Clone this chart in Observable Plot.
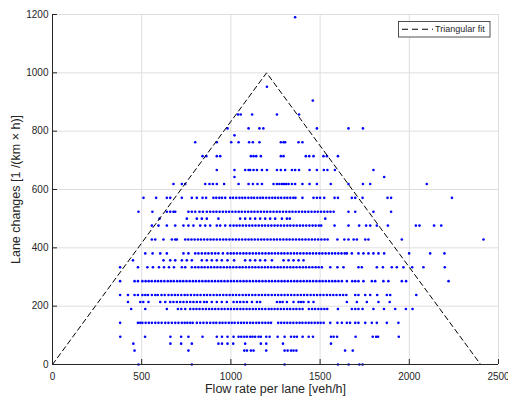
<!DOCTYPE html>
<html>
<head>
<meta charset="utf-8">
<script src="https://cdn.jsdelivr.net/npm/d3@7"></script>
<script src="https://cdn.jsdelivr.net/npm/@observablehq/plot@0.6"></script>
<style>
  html, body { margin: 0; padding: 0; background: #fff; }
  #chart { width: 508px; height: 401px; }
</style>
</head>
<body>
<div id="chart"></div>
<script>
// Lane-change levels (1/(km*h)) at which the observations sit
const laneChangeLevels = [0, 47.62, 71.43, 95.24, 142.86, 190.48, 214.29, 238.10, 285.71, 333.33, 357.14, 380.95, 428.57, 476.19, 500.00, 523.81, 571.43, 619.05, 642.86, 666.67, 714.29, 761.90, 785.71, 809.52, 857.14, 904.76, 952.38, 1190.48];

// Flow rate per lane (veh/h) observed at each level (same order as laneChangeLevels)
const flowAtLevel = [
  [482, 781, 1080, 1301, 1600, 1660, 1720, 1738],
  [460, 762, 1075, 1090, 1112, 1127, 1198, 1301, 1318, 1337, 1351, 1367, 1640, 1683],
  [453, 661, 721, 781, 930, 950, 981, 1013, 1080, 1168, 1198, 1292, 1561],
  [380, 519, 661, 721, 762, 841, 921, 950, 981, 1015, 1043, 1058, 1075, 1090, 1108, 1121, 1136, 1155, 1168, 1198, 1217, 1262, 1301, 1337, 1355, 1370, 1402, 1436, 1460, 1561, 1576, 1595, 1699, 1795, 1814, 1825, 1941],
  [379, 479, 492, 504, 522, 540, 557, 576, 594, 612, 632, 650, 669, 688, 706, 725, 741, 756, 772, 786, 809, 828, 846, 865, 884, 902, 918, 937, 953, 970, 988, 1005, 1021, 1040, 1057, 1073, 1090, 1108, 1124, 1142, 1158, 1176, 1193, 1210, 1225, 1265, 1282, 1299, 1316, 1333, 1350, 1368, 1385, 1401, 1419, 1436, 1452, 1470, 1487, 1503, 1520, 1557, 1597, 1622, 1650, 1668, 1697, 1715, 1753, 1790, 1818, 1874, 1939],
  [441, 520, 641, 703, 722, 744, 772, 790, 807, 824, 842, 860, 878, 895, 912, 930, 948, 965, 983, 1000, 1018, 1035, 1053, 1070, 1088, 1105, 1123, 1140, 1158, 1175, 1193, 1212, 1228, 1245, 1262, 1280, 1297, 1315, 1332, 1350, 1367, 1385, 1402, 1437, 1455, 1472, 1490, 1507, 1524, 1540, 1600, 1678, 1697, 1715, 1738, 1799, 1858, 1921, 1981, 2018],
  [423, 492, 509, 538, 604, 632, 660, 678, 697, 716, 734, 753, 772, 790, 809, 828, 850, 865, 893, 921, 949, 977, 1015, 1034, 1052, 1071, 1090, 1118, 1146, 1164, 1258, 1275, 1290, 1314, 1351, 1379, 1393, 1407, 1435, 1463, 1650, 1706, 1762, 1827, 1890],
  [379, 423, 460, 479, 504, 520, 535, 557, 576, 590, 611, 629, 650, 668, 686, 703, 722, 741, 757, 776, 795, 812, 830, 849, 866, 884, 903, 921, 938, 957, 975, 993, 1011, 1029, 1047, 1066, 1084, 1101, 1120, 1137, 1156, 1174, 1192, 1210, 1229, 1247, 1265, 1283, 1301, 1319, 1338, 1356, 1374, 1392, 1410, 1428, 1447, 1465, 1483, 1501, 1519, 1538, 1556, 1574, 1592, 1611, 1629, 1647, 1697, 1715, 1753, 1781, 1820, 1874, 1893, 2039],
  [379, 460, 479, 504, 522, 539, 556, 575, 592, 609, 627, 646, 663, 680, 699, 716, 733, 751, 769, 787, 804, 822, 840, 858, 875, 893, 911, 929, 946, 964, 982, 1000, 1017, 1035, 1053, 1071, 1088, 1106, 1124, 1142, 1159, 1177, 1195, 1213, 1230, 1248, 1266, 1284, 1301, 1319, 1337, 1355, 1372, 1390, 1408, 1426, 1443, 1461, 1479, 1497, 1514, 1532, 1550, 1568, 1585, 1603, 1622, 1650, 1680, 1697, 1715, 1743, 1790, 1809, 1855, 1883, 1958, 1982, 2220],
  [379, 479, 532, 563, 597, 625, 653, 681, 725, 744, 781, 800, 818, 836, 853, 871, 889, 907, 924, 942, 960, 978, 995, 1013, 1031, 1049, 1066, 1084, 1102, 1120, 1137, 1155, 1173, 1191, 1208, 1226, 1244, 1262, 1279, 1297, 1315, 1333, 1350, 1368, 1386, 1404, 1421, 1439, 1457, 1475, 1492, 1510, 1557, 1597, 1631, 1715, 1734, 1818, 1852, 1902, 1930, 1967, 2016, 2079, 2199],
  [451, 622, 660, 688, 725, 753, 781, 837, 865, 893, 921, 949, 981, 1018, 1080, 1108, 1136, 1164, 1192, 1230, 1295, 1323, 1351, 1379, 1407],
  [520, 561, 604, 641, 734, 762, 800, 818, 837, 856, 874, 893, 912, 930, 955, 981, 999, 1016, 1034, 1052, 1070, 1087, 1105, 1123, 1141, 1158, 1176, 1194, 1212, 1229, 1247, 1265, 1283, 1300, 1318, 1336, 1354, 1371, 1389, 1407, 1425, 1442, 1460, 1478, 1496, 1513, 1531, 1549, 1567, 1584, 1602, 1620, 1638, 1650, 1678, 1715, 1743, 1771, 1799, 1827, 1859, 1999, 2117, 2197],
  [557, 576, 622, 669, 688, 697, 744, 761, 779, 797, 815, 832, 850, 868, 886, 903, 921, 939, 957, 974, 992, 1010, 1028, 1045, 1063, 1081, 1099, 1116, 1134, 1152, 1170, 1187, 1205, 1223, 1241, 1258, 1276, 1294, 1312, 1329, 1347, 1365, 1383, 1400, 1418, 1436, 1454, 1471, 1489, 1507, 1525, 1542, 1597, 1636, 1659, 1688, 1706, 1753, 1771, 1958, 2416],
  [557, 594, 641, 688, 734, 762, 790, 828, 856, 884, 921, 940, 968, 996, 1015, 1032, 1049, 1067, 1085, 1103, 1120, 1138, 1156, 1174, 1191, 1209, 1227, 1245, 1262, 1280, 1298, 1316, 1333, 1351, 1369, 1387, 1404, 1422, 1440, 1458, 1475, 1493, 1506, 1581, 1659, 1719, 1758, 1781, 1818, 1880, 2037, 2057, 2139, 2179],
  [600, 753, 809, 837, 865, 930, 1052, 1080, 1108, 1136, 1164, 1192, 1220, 1248, 1286, 1314, 1330, 1529],
  [482, 560, 641, 660, 678, 688, 762, 781, 800, 824, 843, 865, 884, 902, 919, 937, 955, 973, 990, 1008, 1026, 1044, 1061, 1079, 1097, 1115, 1132, 1150, 1168, 1186, 1203, 1221, 1239, 1257, 1274, 1292, 1310, 1328, 1345, 1363, 1381, 1399, 1416, 1434, 1452, 1470, 1487, 1505, 1523, 1541, 1558, 1576, 1659, 1697, 1799, 1898],
  [510, 581, 641, 660, 725, 781, 809, 841, 861, 902, 918, 935, 950, 968, 996, 1012, 1030, 1048, 1064, 1080, 1098, 1115, 1130, 1148, 1165, 1180, 1198, 1215, 1232, 1248, 1265, 1282, 1300, 1316, 1333, 1350, 1362, 1401, 1463, 1482, 1500, 1523, 1581, 1600, 1678, 1697, 1738, 1878, 1898, 2239],
  [678, 725, 744, 856, 880, 899, 921, 962, 1043, 1099, 1123, 1149, 1174, 1239, 1258, 1272, 1286, 1298, 1310, 1323, 1342, 1360, 1401, 1441, 1482, 1560, 1659, 1740, 1781, 2098],
  [1020, 1859],
  [921, 1020, 1080, 1099, 1108, 1127, 1146, 1174, 1202, 1258, 1280, 1304, 1342, 1360, 1382, 1441, 1482, 1521, 1541, 1583, 1799],
  [841, 862, 921, 940, 1112, 1127, 1142, 1168, 1280, 1295, 1420, 1439, 1463, 1519, 1538, 1600],
  [800, 921, 1002, 1043, 1102, 1123, 1160, 1280, 1295, 1304, 1379, 1401],
  [1020],
  [981, 1099, 1160, 1182, 1482, 1659, 1740],
  [1040, 1055, 1119, 1258, 1382],
  [1459],
  [1202],
  [1360]
];

// Triangular fit vertices
const fitFlow = [0, 1200, 2400];
const fitLaneChanges = [0, 1000, 0];

// Axis ticks and texts
const xTicks = [0, 500, 1000, 1500, 2000, 2500];
const yTicks = [0, 200, 400, 600, 800, 1000, 1200];
const xTitle = "Flow rate per lane [veh/h]";
const yTitle = "Lane changes [1 /(km \u00d7 h)]";
const legendLabel = "Triangular fit";

const points = [];
laneChangeLevels.forEach((lc, i) => flowAtLevel[i].forEach(f => points.push({flow: f, lc})));
const fit = fitFlow.map((f, i) => ({flow: f, lc: fitLaneChanges[i]}));

const W = 508, H = 401, mL = 52, mR = 10, mT = 14, mB = 37;
const fw = W - mL - mR, fh = H - mT - mB;
const axisColor = "#262626";
const gridColor = "#dedede";
const font = "'Liberation Sans', Arial, Helvetica, sans-serif";

const plot = Plot.plot({
  width: W, height: H,
  marginLeft: mL, marginRight: mR, marginTop: mT, marginBottom: mB,
  style: {fontFamily: font, fontSize: "10px", color: axisColor, background: "#fff", overflow: "visible"},
  x: {domain: [0, 2500]},
  y: {domain: [0, 1200]},
  marks: [
    Plot.gridX(xTicks, {stroke: gridColor, strokeOpacity: 1}),
    Plot.gridY(yTicks, {stroke: gridColor, strokeOpacity: 1}),
    Plot.dot(points, {x: "flow", y: "lc", r: 1.3, fill: "#0000ff", stroke: null}),
    Plot.line(fit, {x: "flow", y: "lc", stroke: "#000", strokeWidth: 1, strokeDasharray: "5,3.5"}),
    Plot.ruleY([0], {stroke: axisColor}),
    Plot.ruleX([0], {stroke: axisColor}),
    Plot.ruleX(xTicks, {x: d => d, insetTop: fh - 5, stroke: axisColor}),
    Plot.ruleY(yTicks, {y: d => d, insetRight: fw - 5, stroke: axisColor}),
    Plot.axisX(xTicks, {tickSize: 0, tickPadding: 8.5, label: null, fill: axisColor, tickFormat: d => String(d)}),
    Plot.axisY(yTicks, {tickSize: 0, tickPadding: 4, label: null, fill: axisColor, tickFormat: d => String(d)}),
    Plot.text([xTitle], {text: d => d, frameAnchor: "bottom", textAnchor: "middle", dy: 28.8, fontSize: 12.5, fill: axisColor}),
    Plot.text([yTitle], {text: d => d, frameAnchor: "left", textAnchor: "middle", rotate: -90, dx: -37, fontSize: 12.5, fill: axisColor})
  ]
});

// Legend box (top-right inside the frame)
const svg = d3.select(plot);
const lg = svg.append("g").attr("font-family", font).attr("text-anchor", "start");
const lRight = W - mR - 8, lTop = 21.5, lW = 91.5, lH = 15.5;
lg.append("rect").attr("x", lRight - lW).attr("y", lTop).attr("width", lW).attr("height", lH)
  .attr("fill", "#fff").attr("stroke", axisColor).attr("stroke-width", 0.8);
lg.append("line").attr("x1", lRight - lW + 3.5).attr("x2", lRight - lW + 34.5)
  .attr("y1", lTop + lH / 2).attr("y2", lTop + lH / 2)
  .attr("stroke", "#000").attr("stroke-width", 1).attr("stroke-dasharray", "6,4");
lg.append("text").attr("x", lRight - lW + 36.5).attr("y", lTop + lH / 2 + 3.2)
  .attr("text-anchor", "start").attr("font-size", 9).attr("fill", axisColor).text(legendLabel);

document.getElementById("chart").appendChild(plot);
</script>
</body>
</html>
